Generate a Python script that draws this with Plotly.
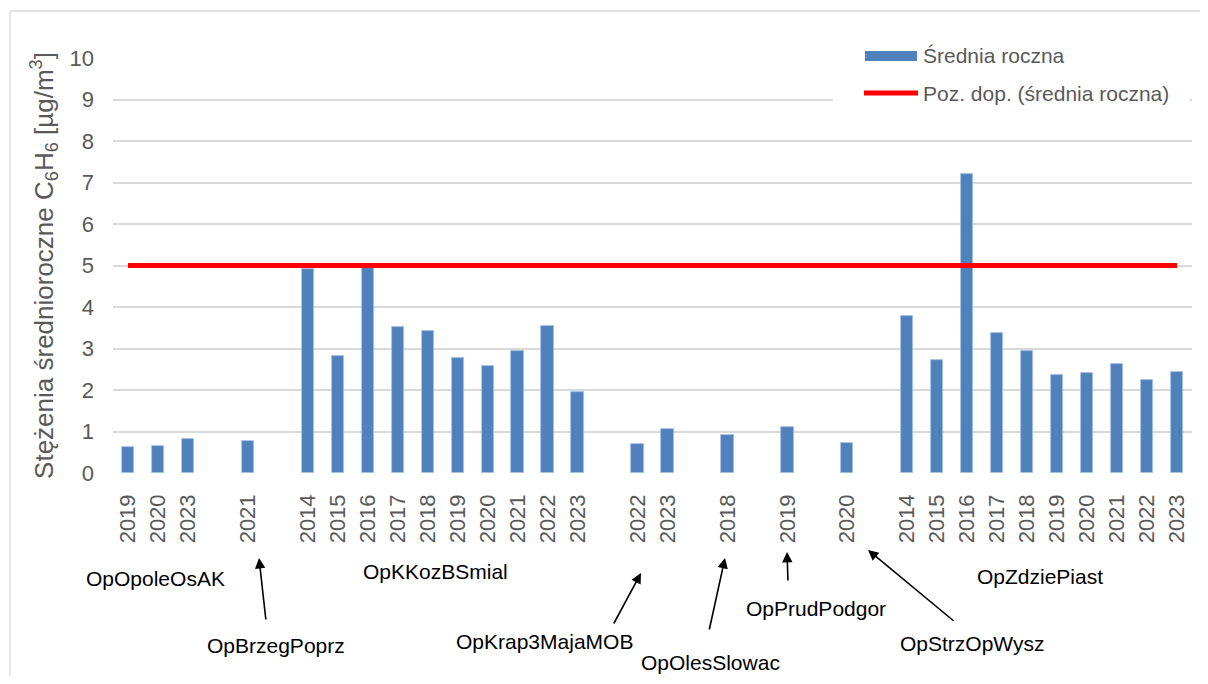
import plotly.graph_objects as go

# dane: stacje, lata i średnie roczne C6H6 [µg/m3]
stations = ["OpOpoleOsAK", "OpBrzegPoprz", "OpKKozBSmial", "OpKrap3MajaMOB",
            "OpOlesSlowac", "OpPrudPodgor", "OpStrzOpWysz", "OpZdziePiast"]

years_opole = ["2019", "2020", "2023"]
vals_opole = [0.63, 0.65, 0.82]
years_brzeg = ["2021"]
vals_brzeg = [0.77]
years_kkoz = ["2014", "2015", "2016", "2017", "2018", "2019", "2020", "2021", "2022", "2023"]
vals_kkoz = [4.92, 2.82, 4.94, 3.52, 3.43, 2.78, 2.57, 2.93, 3.54, 1.94]
years_krap = ["2022", "2023"]
vals_krap = [0.71, 1.05]
years_oles = ["2018"]
vals_oles = [0.91]
years_prud = ["2019"]
vals_prud = [1.12]
years_strz = ["2020"]
vals_strz = [0.73]
years_zdzie = ["2014", "2015", "2016", "2017", "2018", "2019", "2020", "2021", "2022", "2023"]
vals_zdzie = [3.78, 2.73, 7.21, 3.37, 2.94, 2.36, 2.40, 2.63, 2.23, 2.43]

limit_value = 5  # poziom dopuszczalny (średnia roczna)

groups = [
    (years_opole, vals_opole), (years_brzeg, vals_brzeg), (years_kkoz, vals_kkoz),
    (years_krap, vals_krap), (years_oles, vals_oles), (years_prud, vals_prud),
    (years_strz, vals_strz), (years_zdzie, vals_zdzie),
]

# pozycje kategorii: jedna pusta kolumna między stacjami
positions, labels, values = [], [], []
pos = 0
for yrs, vals in groups:
    for yr, v in zip(yrs, vals):
        positions.append(pos)
        labels.append(yr)
        values.append(v)
        pos += 1
    pos += 1
last_slot = positions[-1]

# strona ma margines 8 px, więc figura jest mniejsza i przesunięta
OFF = 8
W, H = 1208 - 2 * OFF, 684 - 2 * OFF
L, T = 113 - OFF, 58 - OFF
R = W - (1192 - OFF)
B = H - (473 - OFF)
PW, PH = W - L - R, H - T - B


def px(x, y):
    # współrzędne z obrazka wzorcowego -> paper
    return (x - OFF - L) / PW, (H - B - (y - OFF)) / PH


GRAY = "#595959"
FONT = "Arial, Liberation Sans, sans-serif"

fig = go.Figure()

fig.add_trace(go.Bar(
    x=positions, y=values, width=0.41,
    marker=dict(color="#4f81bd", line=dict(color="#a9c0e0", width=0.8)),
    showlegend=False,
))

fig.add_trace(go.Scatter(
    x=[positions[0], positions[-1]], y=[limit_value, limit_value],
    mode="lines", line=dict(color="#ff0000", width=5),
    showlegend=False,
))

shapes = []
annotations = []

# ramka wykresu (widoczna tylko góra i lewa strona)
fx0, fy0 = px(10, 11)
fx1, fy1 = px(1300, 760)
for sx0, sy0, sx1, sy1 in [(fx0, fy0, fx1, fy0), (fx0, fy0, fx0, fy1)]:
    shapes.append(dict(type="line", xref="paper", yref="paper", x0=sx0, y0=sy0, x1=sx1, y1=sy1,
                       line=dict(color="#d9d9d9", width=1.3), layer="below"))

# legenda
lx0, ly0 = px(833, 30)
lx1, ly1 = px(1190, 112)
shapes.append(dict(type="rect", xref="paper", yref="paper", x0=lx0, y0=ly1, x1=lx1, y1=ly0,
                   line=dict(width=0), fillcolor="white", layer="above"))
bx0, by0 = px(865, 51)
bx1, by1 = px(917, 61)
shapes.append(dict(type="rect", xref="paper", yref="paper", x0=bx0, y0=by1, x1=bx1, y1=by0,
                   line=dict(width=0), fillcolor="#4f81bd", layer="above"))
rx0, ry = px(864, 93)
rx1, _ = px(918, 93)
shapes.append(dict(type="line", xref="paper", yref="paper", x0=rx0, y0=ry, x1=rx1, y1=ry,
                   line=dict(color="#ff0000", width=5), layer="above"))
for text, ty in [("Średnia roczna", 55), ("Poz. dop. (średnia roczna)", 93)]:
    ax_, ay_ = px(921, ty)
    annotations.append(dict(text=text, xref="paper", yref="paper", x=ax_, y=ay_,
                            xanchor="left", yanchor="middle", showarrow=False,
                            font=dict(size=21, color=GRAY, family=FONT)))

# podpisy stacji
label_pos = {
    "OpOpoleOsAK": (155, 578), "OpBrzegPoprz": (276, 645), "OpKKozBSmial": (436, 571),
    "OpKrap3MajaMOB": (544, 641), "OpOlesSlowac": (710, 662), "OpPrudPodgor": (816, 608),
    "OpStrzOpWysz": (972, 643), "OpZdziePiast": (1040, 576),
}
for st in stations:
    x, y = px(*label_pos[st])
    annotations.append(dict(text=st, xref="paper", yref="paper", x=x, y=y,
                            xanchor="center", yanchor="middle", showarrow=False,
                            font=dict(size=21, color="black", family=FONT)))

# strzałki (grot, ogon)
arrows = [((259, 558), (266, 621)), ((641, 573), (613, 625)), ((725, 558), (709, 631)),
          ((787, 552), (788, 582)), ((868, 550), (955, 622))]
for (hx, hy), (tx, ty) in arrows:
    x, y = px(hx, hy)
    annotations.append(dict(text="", xref="paper", yref="paper", x=x, y=y,
                            ax=tx - hx, ay=ty - hy, showarrow=True,
                            arrowhead=2, arrowsize=1.3, arrowwidth=1.6, arrowcolor="black"))

fig.update_xaxes(
    range=[-0.5, last_slot + 0.5], tickmode="array", tickvals=positions, ticktext=labels,
    tickangle=-90, showgrid=False, zeroline=False, showline=False,
    tickfont=dict(size=22, color=GRAY, family=FONT), ticklabelstandoff=16,
)
fig.update_yaxes(
    range=[0, 10], dtick=1, showgrid=True, gridcolor="#d9d9d9", gridwidth=1.5,
    zeroline=False, showline=False,
    tickfont=dict(size=22, color=GRAY, family=FONT), ticklabelstandoff=18,
    title=dict(text="Stężenia średnioroczne C<sub>6</sub>H<sub>6</sub> [µg/m<sup>3</sup>]",
               font=dict(size=26, color=GRAY, family=FONT), standoff=8),
)

fig.update_layout(
    width=W, height=H,
    margin=dict(l=L, r=R, t=T, b=B),
    plot_bgcolor="white", paper_bgcolor="white",
    shapes=shapes, annotations=annotations,
    bargap=0.0,
)

fig.write_html("out.html")
